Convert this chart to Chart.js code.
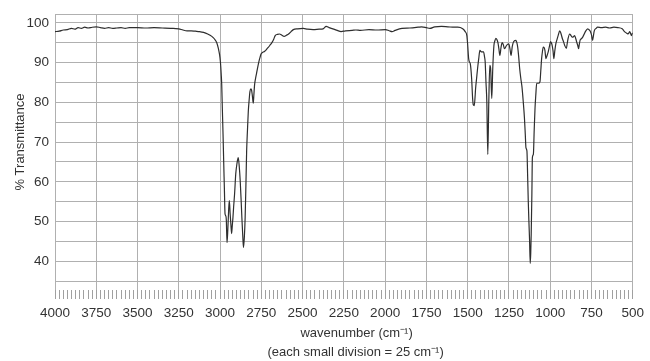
<!DOCTYPE html>
<html>
<head>
<meta charset="utf-8">
<script src="https://cdn.jsdelivr.net/npm/chart.js@4.4.1/dist/chart.umd.min.js"></script>
<style>
  html, body { margin: 0; padding: 0; background: #fff; }
</style>
</head>
<body>
<canvas id="chart" width="650" height="361"></canvas>
<script>
// IR spectrum (cm-1 -> % transmittance)
const wavenumbers = [
  4000, 3975, 3950, 3925, 3900, 3880, 3860, 3840, 3820, 3800, 3775, 3750, 3725, 3700, 3675, 3650,
  3625, 3600, 3575, 3550, 3500, 3450, 3400, 3350, 3300, 3250, 3225, 3200, 3175, 3150, 3125, 3100,
  3075, 3050, 3035, 3020, 3010, 3003, 2998, 2993, 2990, 2986, 2982, 2978, 2974, 2970, 2966, 2962,
  2958, 2953, 2948, 2944, 2939, 2934, 2930, 2926, 2922, 2918, 2912, 2905, 2898, 2890, 2884, 2878,
  2872, 2868, 2862, 2858, 2853, 2848, 2843, 2839, 2834, 2829, 2824, 2819, 2813, 2809, 2804, 2799,
  2795, 2791, 2785, 2779, 2772, 2765, 2758, 2751, 2742, 2735, 2725, 2715, 2699, 2685, 2675, 2666,
  2652, 2640, 2625, 2612, 2598, 2585, 2570, 2556, 2530, 2496, 2470, 2436, 2400, 2376, 2357, 2340,
  2317, 2290, 2267, 2240, 2200, 2177, 2150, 2098, 2050, 1998, 1975, 1958, 1940, 1898, 1850, 1800,
  1779, 1750, 1729, 1700, 1659, 1620, 1580, 1560, 1530, 1515, 1505, 1500, 1494, 1490, 1484, 1476,
  1470, 1466, 1460, 1455, 1452, 1446, 1440, 1433, 1426, 1420, 1414, 1404, 1398, 1394, 1389, 1384,
  1378, 1372, 1366, 1361, 1354, 1348, 1341, 1335, 1329, 1323, 1317, 1311, 1305, 1298, 1291, 1284,
  1277, 1271, 1265, 1251, 1244, 1237, 1230, 1221, 1207, 1202, 1197, 1191, 1185, 1178, 1171, 1163,
  1156, 1151, 1147, 1141, 1137, 1133, 1129, 1125, 1121, 1118, 1115, 1111, 1108, 1102, 1097, 1092,
  1087, 1082, 1072, 1062, 1057, 1052, 1047, 1042, 1037, 1032, 1026, 1019, 1012, 1005, 998, 993,
  988, 983, 978, 972, 966, 959, 952, 942, 934, 926, 919, 912, 902, 897, 892, 882,
  874, 866, 859, 852, 845, 839, 833, 828, 824, 819, 811, 803, 795, 787, 773, 766,
  759, 753, 749, 746, 743, 738, 733, 722, 713, 690, 664, 640, 614, 590, 564, 554,
  544, 536, 528, 523, 518, 513, 508, 504, 500
];
const transmittance = [
  97.8, 97.9, 98.2, 98.3, 98.6, 98.4, 98.8, 98.6, 98.9, 98.7, 98.9, 99.0, 98.8, 98.6, 98.8, 98.6,
  98.7, 98.8, 98.6, 98.8, 98.8, 98.7, 98.8, 98.7, 98.6, 98.5, 98.2, 98.0, 98.0, 97.9, 97.8, 97.6,
  97.2, 96.6, 96.0, 95.0, 93.5, 92.0, 90.2, 87.0, 84.4, 78.0, 72.0, 65.0, 58.6, 52.0, 51.5, 50.3,
  44.7, 48.0, 53.0, 55.3, 52.0, 49.0, 47.0, 49.0, 51.0, 53.6, 57.0, 62.0, 64.5, 66.1, 64.0, 60.3,
  55.0, 51.1, 46.0, 43.5, 46.0, 51.1, 60.0, 67.8, 73.0, 77.7, 80.5, 82.7, 83.4, 83.1, 81.5, 79.8,
  82.0, 84.4, 86.0, 87.3, 88.8, 90.2, 91.3, 92.2, 92.6, 92.7, 93.0, 93.5, 94.3, 95.1, 95.9, 96.8,
  97.1, 97.2, 96.9, 96.6, 96.9, 97.2, 97.8, 98.3, 98.5, 98.6, 98.4, 98.3, 98.4, 98.5, 99.1, 98.8,
  98.5, 98.1, 97.8, 98.0, 98.1, 98.2, 98.1, 98.3, 98.2, 98.3, 98.0, 97.8, 98.1, 98.6, 98.7, 98.9,
  99.0, 98.8, 98.6, 99.0, 99.1, 99.0, 98.9, 98.9, 98.5, 97.8, 96.8, 94.5, 91.0, 90.2, 89.7, 86.0,
  81.0, 79.4, 79.2, 81.5, 83.5, 86.0, 88.5, 91.0, 93.1, 92.8, 92.7, 92.7, 91.5, 90.2, 85.0, 80.2,
  66.9, 80.2, 89.3, 88.5, 81.0, 88.5, 94.3, 95.5, 96.1, 95.8, 95.1, 93.5, 91.8, 93.8, 95.0, 94.5,
  93.5, 93.8, 94.3, 94.7, 93.5, 91.8, 94.0, 95.3, 95.6, 95.0, 93.9, 91.5, 88.5, 86.0, 83.9, 80.0,
  76.0, 72.0, 68.6, 67.8, 62.0, 55.3, 50.0, 45.3, 39.5, 42.0, 47.0, 57.0, 66.1, 66.9, 73.0, 78.5,
  82.0, 84.8, 84.8, 85.2, 88.0, 91.0, 92.8, 93.9, 93.8, 93.1, 91.0, 91.8, 92.7, 94.0, 95.3, 95.0,
  94.3, 93.0, 91.0, 93.0, 94.7, 95.8, 96.8, 98.0, 97.2, 96.0, 95.2, 94.3, 93.6, 94.8, 96.0, 97.2,
  96.8, 96.4, 96.5, 96.8, 96.0, 95.1, 94.3, 93.5, 94.5, 95.6, 96.0, 96.4, 97.1, 97.8, 98.5, 98.3,
  98.0, 97.4, 96.8, 96.0, 95.6, 96.8, 98.0, 98.6, 98.9, 98.8, 98.9, 98.7, 98.9, 98.8, 98.5, 98.0,
  97.6, 97.4, 97.2, 97.5, 97.8, 97.3, 96.8, 97.2, 97.5
];

const xMajorTicks = [4000, 3750, 3500, 3250, 3000, 2750, 2500, 2250, 2000, 1750, 1500, 1250, 1000, 750, 500];
const xMinorStep = 25;
const yLabelTicks = [40, 50, 60, 70, 80, 90, 100];
const yGridTicks = [35, 40, 45, 50, 55, 60, 65, 70, 75, 80, 85, 90, 95, 100];
const yMin = 32.8;
const yMax = 102.2;

const xTitle = ['wavenumber (cm\u207B\u00B9)', '(each small division = 25 cm\u207B\u00B9)'];
const yTitle = '% Transmittance';

const FONT = '"Liberation Sans", Arial, Helvetica, sans-serif';
const textColor = '#333';
const gridColor = '#b0b0b0';

let minorTicks = [];
for (let w = xMajorTicks[0]; w >= xMajorTicks[xMajorTicks.length - 1]; w -= xMinorStep) minorTicks.push(w);

// axis captions are placed a bit off-centre in the reference, so draw them ourselves
const axisTitles = {
  id: 'axisTitles',
  afterDraw(chart) {
    const { ctx, chartArea: a } = chart;
    ctx.save();
    ctx.fillStyle = textColor;
    ctx.textAlign = 'center';
    ctx.textBaseline = 'middle';
    ctx.font = '13px ' + FONT;
    const cx = a.left + (a.right - a.left) * 0.522;
    ctx.fillText(xTitle[0], cx, chart.height - 28);
    ctx.fillText(xTitle[1], cx - 1, chart.height - 8.5);
    ctx.translate(20, (a.top + a.bottom) / 2 - 10);
    ctx.rotate(-Math.PI / 2);
    ctx.fillText(yTitle, 0, 0);
    ctx.restore();
  }
};

Chart.defaults.font.family = FONT;
Chart.defaults.color = textColor;

new Chart(document.getElementById('chart'), {
  type: 'line',
  data: {
    datasets: [{
      data: wavenumbers.map((w, i) => ({ x: w, y: transmittance[i] })),
      borderColor: '#2e2e2e',
      borderWidth: 1.2,
      pointRadius: 0,
      cubicInterpolationMode: 'monotone',
      fill: false
    }]
  },
  options: {
    responsive: false,
    animation: false,
    layout: { padding: { top: 12, right: 9, left: 0, bottom: 0 } },
    plugins: { legend: { display: false }, tooltip: { enabled: false } },
    scales: {
      x: {
        type: 'linear',
        reverse: true,
        min: 500,
        max: 4000,
        afterBuildTicks: s => { s.ticks = minorTicks.map(v => ({ value: v })); },
        afterFit: s => { s.height = 71; },
        border: { display: false },
        grid: {
          color: c => (c.tick && xMajorTicks.includes(c.tick.value)) ? gridColor : 'rgba(0,0,0,0)',
          tickColor: '#a0a0a0',
          tickLength: 9,
          lineWidth: 1
        },
        ticks: {
          autoSkip: false,
          maxRotation: 0,
          minRotation: 0,
          padding: 6,
          font: { size: 13.5 },
          callback: v => xMajorTicks.includes(v) ? String(v) : ''
        }
      },
      y: {
        min: yMin,
        max: yMax,
        afterBuildTicks: s => { s.ticks = yGridTicks.concat([yMax]).map(v => ({ value: v })); },
        afterFit: s => { s.width = 55; },
        border: { display: false },
        grid: { color: gridColor, drawTicks: false, lineWidth: 1 },
        ticks: {
          autoSkip: false,
          padding: 6,
          font: { size: 13.5 },
          callback: v => yLabelTicks.includes(v) ? String(v) : ''
        }
      }
    }
  },
  plugins: [axisTitles]
});
</script>
</body>
</html>
